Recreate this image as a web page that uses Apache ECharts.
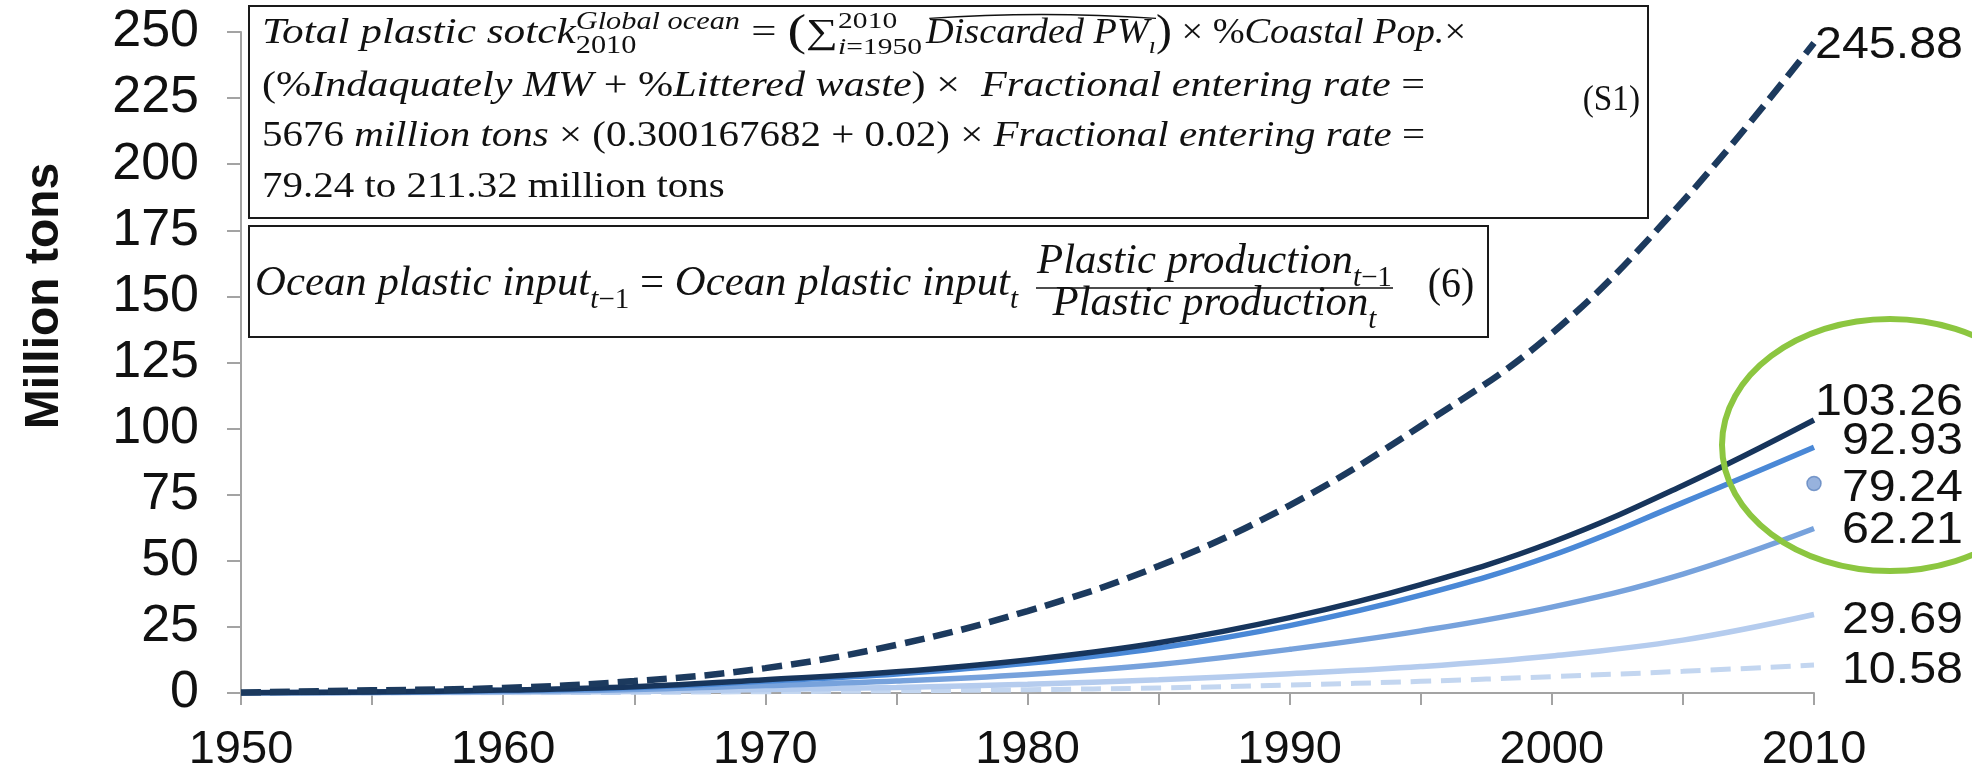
<!DOCTYPE html>
<html>
<head>
<meta charset="utf-8">
<script src="https://cdn.jsdelivr.net/npm/echarts@6/dist/echarts.min.js"></script>
<style>
html,body{margin:0;padding:0;background:#fff;}
#chart{width:1972px;height:779px;}
</style>
</head>
<body>
<div id="chart"></div>
<script>
// ---------------- DATA ----------------
const years = [1950, 1955, 1960, 1965, 1970, 1975, 1980, 1985, 1990, 1995, 2000, 2005, 2010];
const scenarioHighDashed = [0.2, 1.0, 1.9, 4.5, 9.4, 18.2, 31, 48, 71, 101, 136, 186, 245.88];
const scenarioDark       = [0.1, 0.4, 1.1, 2.4, 5.0, 8.0, 12.5, 19, 28.5, 41, 57, 78.5, 103.26];
const scenarioMedium     = [0.1, 0.35, 1.0, 2.1, 4.5, 7.2, 11.2, 17, 25.5, 37, 52, 72, 92.93];
const scenarioLight      = [0.05, 0.2, 0.6, 1.3, 2.8, 4.5, 7.0, 10.8, 16.5, 23.5, 32.5, 45, 62.21];
const scenarioPale       = [0.03, 0.1, 0.3, 0.6, 1.3, 2.1, 3.3, 5.0, 7.3, 10, 14, 20, 29.69];
const scenarioPaleDashed = [0.01, 0.04, 0.1, 0.25, 0.5, 0.8, 1.25, 1.9, 3.0, 4.4, 6.2, 8.2, 10.58];
const estimatePoint = [2010, 79.24];
const yAxisRange = [0, 250, 25];
const xAxisRange = [1950, 2010, 5];
const xLabelStep = 10;
const yAxisTitle = 'Million tons';

// ---------------- STYLE ----------------
const seriesStyles = [
  {data: scenarioPaleDashed, color: '#c3d6f0', width: 5, dash: [20, 10], dy: 6},
  {data: scenarioPale,       color: '#b5ccee', width: 5.5, dash: null, dy: 6},
  {data: scenarioLight,      color: '#77a2dc', width: 5.5, dash: null, dy: 2},
  {data: scenarioMedium,     color: '#4a88d6', width: 5.5, dash: null, dy: -5},
  {data: scenarioDark,       color: '#17355c', width: 5.5, dash: null, dy: -17},
  {data: scenarioHighDashed, color: '#1c3a5e', width: 6.5, dash: [20, 9], dy: 3}
];
const pointLabelDy = 5;
const labelRightX = 1963;
const axisColor = '#a3a3a3';

const chart = echarts.init(document.getElementById('chart'), null, {renderer: 'canvas'});

const series = seriesStyles.map((s, i) => ({
  type: 'line',
  data: years.map((y, k) => [y, s.data[k]]),
  smooth: 0.4,
  showSymbol: false,
  symbol: 'none',
  z: 2 + i,
  lineStyle: {color: s.color, width: s.width, type: s.dash ? s.dash : 'solid', cap: 'butt'}
}));
series.push({
  type: 'scatter',
  data: [estimatePoint],
  symbolSize: 14,
  z: 20,
  itemStyle: {color: '#7d9fd4', borderColor: '#5f84bf', borderWidth: 1.5}
});

chart.setOption({
  animation: false,
  backgroundColor: '#ffffff',
  grid: {left: 241, right: 158, top: 32, bottom: 86},
  xAxis: {
    type: 'value', min: xAxisRange[0], max: xAxisRange[1], interval: xAxisRange[2],
    axisLine: {show: true, lineStyle: {color: axisColor, width: 2}},
    axisTick: {show: true, length: 12, lineStyle: {color: axisColor, width: 2}},
    splitLine: {show: false},
    axisLabel: {
      formatter: v => (v % xLabelStep === 0 ? String(v) : ''),
      fontSize: 47, fontFamily: '"Liberation Sans", Arial, sans-serif', color: '#111', margin: 34
    }
  },
  yAxis: {
    type: 'value', min: yAxisRange[0], max: yAxisRange[1], interval: yAxisRange[2],
    axisLine: {show: true, lineStyle: {color: axisColor, width: 2}},
    axisTick: {show: true, length: 14, lineStyle: {color: axisColor, width: 2}},
    splitLine: {show: false},
    axisLabel: {fontSize: 52, fontFamily: '"Liberation Sans", Arial, sans-serif', color: '#111', margin: 42}
  },
  series: series
});

// ---------------- ANNOTATIONS ----------------
const mctx = document.createElement('canvas').getContext('2d');
const SERIF = 'Liberation Serif';
const TZ = 55;
function buildLine(frags, size) {
  const kids = [];
  const marks = {};
  let x = 0;
  const put = (f, x0) => {
    const s = size * (f.s || 1);
    const st = f.it ? 'italic' : 'normal';
    mctx.font = st + ' ' + s + 'px "' + SERIF + '"';
    const w = mctx.measureText(f.t).width;
    kids.push({
      type: 'text', x: x0, y: (f.dy || 0) * size - 0.32 * s, z: TZ,
      style: {text: f.t, fontSize: s, fontFamily: SERIF, fontStyle: st, fill: '#111', align: 'left', verticalAlign: 'middle'}
    });
    return w;
  };
  frags.forEach(f => {
    if (f.mark) { marks[f.mark] = x; return; }
    if (f.stack) {
      let m = 0;
      f.stack.forEach(seq => { let xx = x; seq.forEach(g => { xx += put(g, xx); }); m = Math.max(m, xx - x); });
      x += m;
      return;
    }
    x += put(f, x);
  });
  return {kids, width: x, marks};
}
function fitGroup(line, x0, x1, baseY) {
  return {type: 'group', x: x0, y: baseY, scaleX: (x1 - x0) / line.width, children: line.kids, z: TZ};
}

const S1 = 35;
const l1a = buildLine([
  {t: 'Total plastic sotck', it: 1},
  {stack: [[{t: 'Global ocean', it: 1, s: 0.7, dy: -0.42}], [{t: '2010', s: 0.7, dy: 0.28}]]}
], S1);
const l1b = buildLine([
  {t: ' = '},
  {t: '(', s: 1.25, dy: 0.06},
  {t: '∑', s: 1.0},
  {stack: [[{t: '2010', s: 0.66, dy: -0.45}], [{t: 'i', it: 1, s: 0.66, dy: 0.3}, {t: '=1950', s: 0.66, dy: 0.3}]]}
], S1);
const l1c = buildLine([
  {mark: 'h0'},
  {t: 'Discarded PW', it: 1},
  {t: 'ı', it: 1, s: 0.68, dy: 0.28},
  {mark: 'h1'},
  {t: ')', s: 1.25, dy: 0.06},
  {t: ' × %'},
  {t: 'Coastal Pop.', it: 1},
  {t: '×'}
], S1);
l1c.kids.push({
  type: 'bezierCurve', z: TZ,
  shape: {x1: l1c.marks.h0 + 3, y1: -0.76 * S1, x2: l1c.marks.h1, y2: -0.76 * S1,
          cpx1: (l1c.marks.h0 + l1c.marks.h1) / 2, cpy1: -0.98 * S1},
  style: {stroke: '#111', lineWidth: 1.4, fill: 'none'}
});
const l2 = buildLine([
  {t: '(%'}, {t: 'Indaquately MW', it: 1}, {t: ' + %'}, {t: 'Littered waste', it: 1},
  {t: ') ×  '}, {t: 'Fractional entering rate', it: 1}, {t: ' ='}
], S1);
const l3 = buildLine([
  {t: '5676 '}, {t: 'million tons', it: 1}, {t: ' × (0.300167682 + 0.02) × '},
  {t: 'Fractional entering rate', it: 1}, {t: ' ='}
], S1);
const l4 = buildLine([{t: '79.24 to 211.32 million tons'}], S1);
const l3Scale = (1425 - 262) / l3.width;

const S2 = 42;
const m2 = buildLine([
  {t: 'Ocean plastic input', it: 1}, {t: 't', it: 1, s: 0.68, dy: 0.3}, {t: '−1', s: 0.68, dy: 0.3},
  {t: ' = '},
  {t: 'Ocean plastic input', it: 1}, {t: 't', it: 1, s: 0.68, dy: 0.3}
], S2);
const num2 = buildLine([
  {t: 'Plastic production', it: 1}, {t: 't', it: 1, s: 0.68, dy: 0.3}, {t: '−1', s: 0.68, dy: 0.3}
], S2);
const den2 = buildLine([
  {t: 'Plastic production', it: 1}, {t: 't', it: 1, s: 0.68, dy: 0.3}
], S2);
const box2Scale = (1018 - 255) / m2.width;
const fracL = 1036, fracR = 1393, fracC = (fracL + fracR) / 2;

const graphics = [
  {type: 'rect', shape: {x: 249, y: 6, width: 1399, height: 212}, style: {fill: '#fff', stroke: '#1a1a1a', lineWidth: 2}, z: 50},
  {type: 'rect', shape: {x: 249, y: 226, width: 1239, height: 111}, style: {fill: '#fff', stroke: '#1a1a1a', lineWidth: 2}, z: 50},
  fitGroup(l1a, 262, 740, 45),
  fitGroup(l1b, 740, 922, 45),
  fitGroup(l1c, 926, 1466, 45),
  fitGroup(l2, 262, 1425, 98),
  {type: 'group', x: 262, y: 148, scaleX: l3Scale, children: l3.kids, z: TZ},
  {type: 'group', x: 262, y: 199, scaleX: l3Scale, children: l4.kids, z: TZ},
  {type: 'text', x: 1640, y: 101, scaleX: 0.95, z: TZ,
   style: {text: '(S1)', fontSize: 35, fontFamily: SERIF, fill: '#111', align: 'right', verticalAlign: 'middle'}},
  {type: 'group', x: 255, y: 297, scaleX: box2Scale, children: m2.kids, z: TZ},
  {type: 'group', x: fracC - num2.width * box2Scale / 2, y: 275, scaleX: box2Scale, children: num2.kids, z: TZ},
  {type: 'group', x: fracC - den2.width * box2Scale / 2, y: 317, scaleX: box2Scale, children: den2.kids, z: TZ},
  {type: 'line', shape: {x1: fracL, y1: 288, x2: fracR, y2: 288}, style: {stroke: '#111', lineWidth: 1.6}, z: TZ},
  {type: 'text', x: 1451, y: 286, scaleX: 0.95, z: TZ,
   style: {text: '(6)', fontSize: 42, fontFamily: SERIF, fill: '#111', align: 'center', verticalAlign: 'middle'}},
  {type: 'ellipse', shape: {cx: 1890, cy: 445, rx: 168, ry: 126}, style: {fill: 'none', stroke: '#8cc640', lineWidth: 6}, z: 60}
];

seriesStyles.forEach(s => {
  const v = s.data[s.data.length - 1];
  const p = chart.convertToPixel({gridIndex: 0}, [years[years.length - 1], v]);
  graphics.push({
    type: 'text', x: labelRightX, y: p[1] + s.dy, scaleX: 1.1, z: 70,
    style: {text: v.toFixed(2), fontSize: 44, fontFamily: 'Liberation Sans', fill: '#111', align: 'right', verticalAlign: 'middle'}
  });
});
{
  const p = chart.convertToPixel({gridIndex: 0}, estimatePoint);
  graphics.push({
    type: 'text', x: labelRightX, y: p[1] + pointLabelDy, scaleX: 1.1, z: 70,
    style: {text: estimatePoint[1].toFixed(2), fontSize: 44, fontFamily: 'Liberation Sans', fill: '#111', align: 'right', verticalAlign: 'middle'}
  });
}
graphics.push({
  type: 'text', x: 45, y: 296, rotation: Math.PI / 2, z: 70,
  style: {text: yAxisTitle, fontSize: 48, fontWeight: 'bold', fontFamily: 'Liberation Sans', fill: '#111', align: 'center', verticalAlign: 'middle'}
});

chart.setOption({graphic: graphics});
</script>
</body>
</html>
